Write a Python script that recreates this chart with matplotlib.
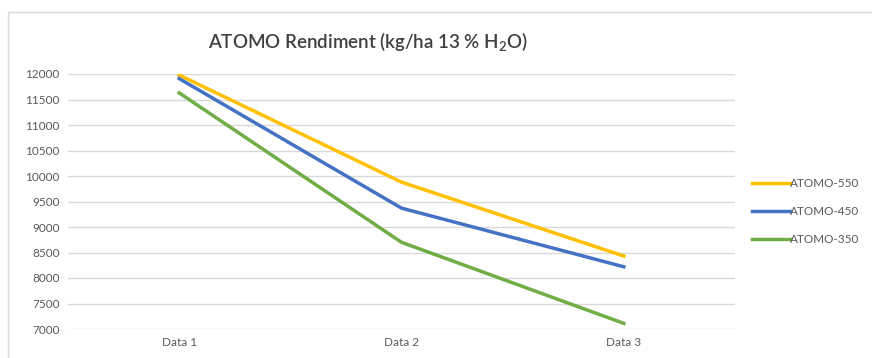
from matplotlib import pyplot as plt
from matplotlib.patches import Rectangle

# categories and series
categories = ['Data 1', 'Data 2', 'Data 3']
atomo_550 = [11980, 9880, 8430]
atomo_450 = [11910, 9370, 8220]
atomo_350 = [11630, 8700, 7110]

plt.rcParams['font.family'] = ['Lato', 'DejaVu Sans']

fig = plt.figure(figsize=(8.72, 3.58), dpi=100)
fig.patch.set_facecolor('white')

# light chart border like the spreadsheet frame
fig.patches.append(Rectangle((8 / 872, -0.01), 1.0, 1 - 12 / 358 + 0.01,
                             transform=fig.transFigure, fill=False,
                             edgecolor='#d9d9d9', linewidth=1))

ax = fig.add_axes([68 / 872, 1 - 329 / 358, 667 / 872, 255 / 358])

x = range(len(categories))
ax.plot(x, atomo_550, color='#FFC000', linewidth=2.5, label='ATOMO-550')
ax.plot(x, atomo_450, color='#4472C4', linewidth=2.5, label='ATOMO-450')
ax.plot(x, atomo_350, color='#70AD47', linewidth=2.5, label='ATOMO-350')

ax.set_xlim(-0.5, 2.5)
ax.set_ylim(7000, 12000)
ax.set_yticks(range(7000, 12001, 500))
ax.set_xticks(list(x))
ax.set_xticklabels(categories)

ax.grid(True, axis='y', color='#d9d9d9', linewidth=1)
ax.set_axisbelow(True)
for s in ax.spines.values():
    s.set_visible(False)
ax.tick_params(length=0, labelsize=8.5, labelcolor='#595959', pad=6)

fig.text(368 / 872, 1 - 42 / 358, r'ATOMO Rendiment (kg/ha 13 % H$_\mathregular{2}$O)',
         ha='center', va='center', fontsize=13.5, color='#404040', fontweight='semibold')

ax.legend(loc='center left', bbox_to_anchor=(1.01, 0.46), frameon=False,
          fontsize=8.5, labelcolor='#595959', handlelength=3.2,
          handletextpad=0.0, labelspacing=1.45)

plt.savefig('out.png', dpi=100)
